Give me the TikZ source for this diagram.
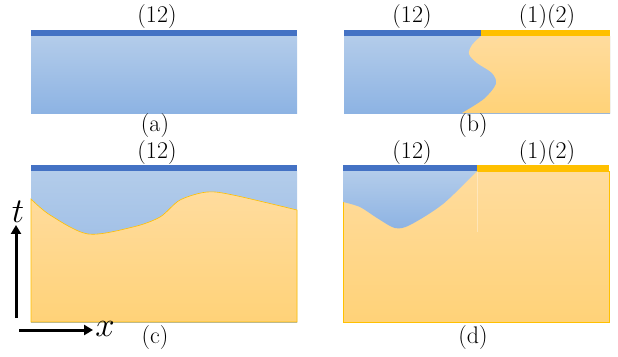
\documentclass[tikz,border=0pt]{standalone}
\usetikzlibrary{arrows.meta}

\definecolor{barblue}{HTML}{4472C4}
\definecolor{bluetop}{HTML}{B3CCEA}
\definecolor{bluebot}{HTML}{8DB3E3}
\definecolor{barorange}{HTML}{FFC000}
\definecolor{orangetop}{HTML}{FFDC9E}
\definecolor{orangebot}{HTML}{FFD278}

\tikzset{
  bluefill/.style={top color=bluetop, bottom color=bluebot},
  orangefill/.style={top color=orangetop, bottom color=orangebot},
  lbl/.style={font=\fontsize{24}{28}\selectfont, inner sep=0pt},
  axislbl/.style={font=\fontsize{24}{28}\selectfont, scale=1.4, inner sep=0pt},
  axisarrow/.style={line width=3pt, -{Triangle[length=9pt,width=10pt]}},
}

\begin{document}
\begin{tikzpicture}[x=1pt,y=-1pt]
  \useasboundingbox (0,0) rectangle (618,356);

  % (a) einfarbig
  \shade[bluefill] (31,36) rectangle (297,113);
  \fill[barblue] (31,29.5) rectangle (297,36);
  \node[lbl] (topa) at (157,17) {(12)};
  \node[lbl] (capa) at (155,126) {(a)};

  % (b) senkrechte Grenze
  \shade[bluefill] (344,36) rectangle (610,113);
  \shade[orangefill] plot[smooth] coordinates {(481,36) (472,45) (469,54) (477,63) (492,73) (496,84) (484,99) (462,113)}
    -- (610,113) -- (610,36) -- cycle;
  \fill[barblue] (344,29.5) rectangle (481,36);
  \fill[barorange] (481,29.5) rectangle (610,36);
  \node[lbl] (topb1) at (412,17) {(12)};
  \node[lbl] (topb2) at (547,17) {(1)(2)};
  \node[lbl] (capb) at (473,126) {(b)};

  % (c) gewellte Grenze
  \shade[bluefill] (31,171) rectangle (297,322);
  \shade[orangefill, draw=barorange, line width=0.6pt] plot[smooth] coordinates {(31,199) (50,215) (88,234) (133,227) (160,217) (180,200) (207,192) (233,195) (297,210)}
    -- (297,322) -- (31,322) -- cycle;
  \fill[barblue] (31,165) rectangle (297,171);
  \node[lbl] (topc) at (157,153) {(12)};
  \node[lbl] (capc) at (155,338) {(c)};

  % (d) gemischt
  \shade[orangefill, draw=barorange, line width=0.6pt] (343,171) rectangle (609,322);
  \shade[bluefill] (477,171) -- (343,171) -- plot[smooth] coordinates {(343,202) (360,207) (377,218) (395,228) (410,225) (443,204) (477,171)} -- cycle;
  \draw[white, opacity=0.35, line width=0.6pt] (477,171) -- (477,232);
  \fill[barblue] (343,165) rectangle (477,171);
  \fill[barorange] (477,165) rectangle (609,171);
  \node[lbl] (topd1) at (412,153) {(12)};
  \node[lbl] (topd2) at (547,153) {(1)(2)};
  \node[lbl] (capd) at (473,338) {(d)};

  % Achsen
  \node[axislbl] (tlab) at (18,212) {$t$};
  \node[axislbl] (xlab) at (105,329) {$x$};
  \coordinate (tfoot) at (16,318);
  \coordinate (xfoot) at (19,330);
  \draw[axisarrow] (tfoot) -- ([yshift=-2pt]tlab.south -| tfoot);
  \draw[axisarrow] (xfoot) -- ([xshift=-2pt]xlab.west |- xfoot);
\end{tikzpicture}
\end{document}
